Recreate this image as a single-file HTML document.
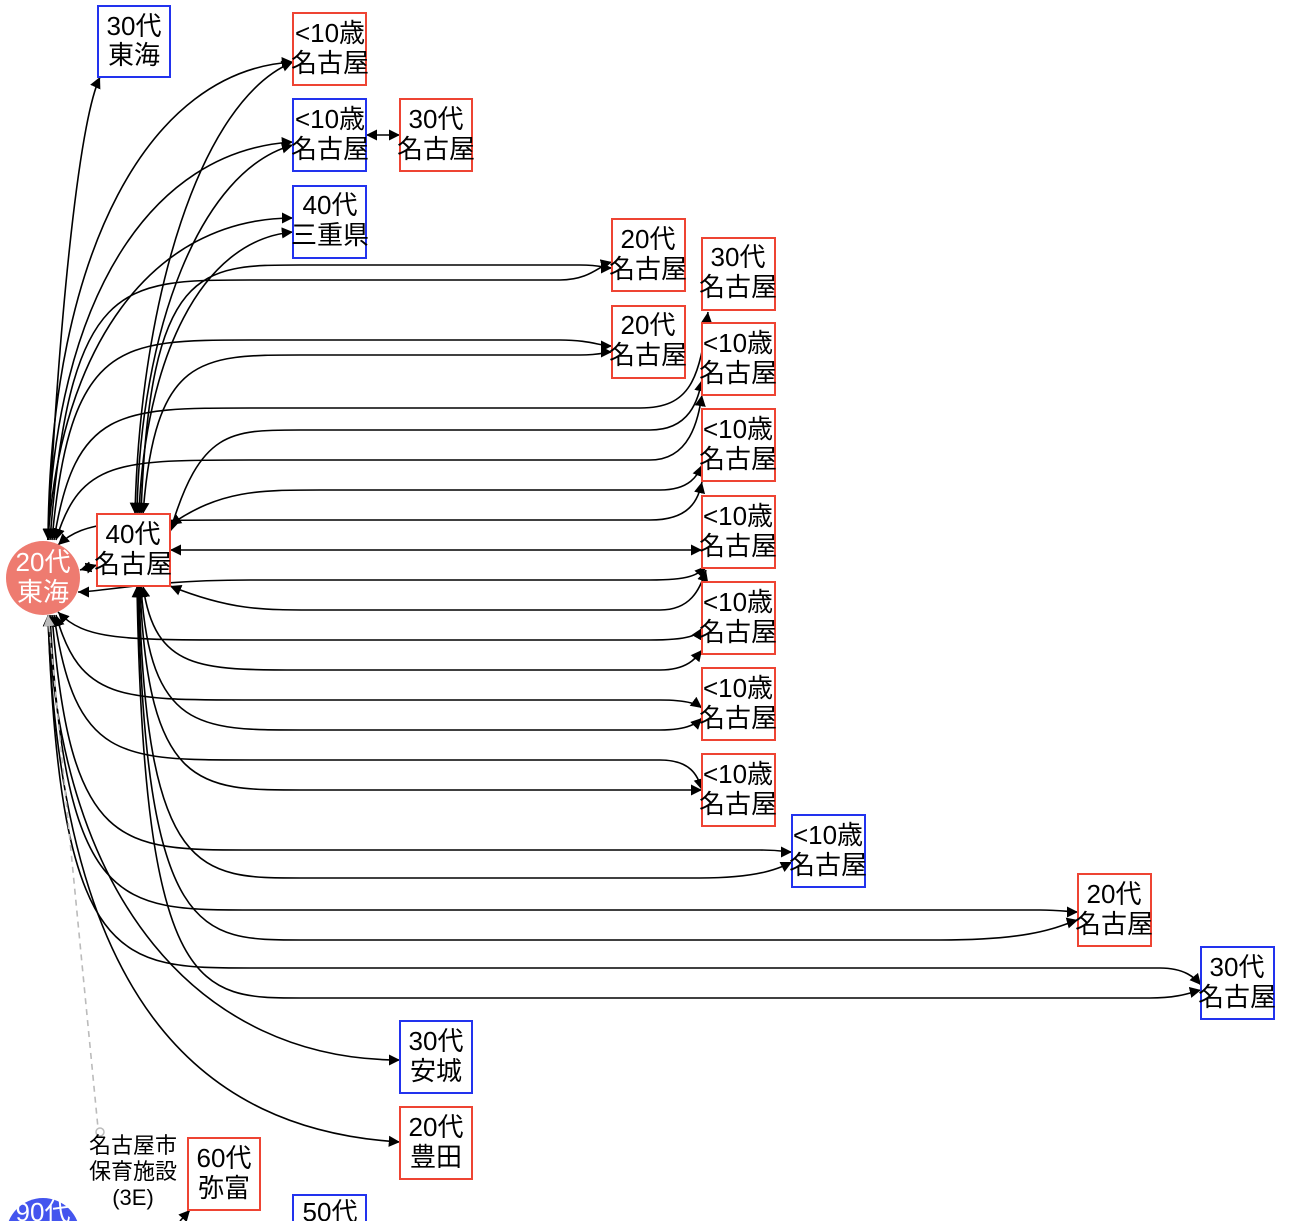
<!DOCTYPE html>
<html><head><meta charset="utf-8"><style>
html,body{margin:0;padding:0;background:#fff;width:1300px;height:1221px;overflow:hidden}
text{font-family:"Liberation Sans","Noto Sans CJK JP",sans-serif;font-size:26px;fill:#000;text-anchor:middle}
</style></head><body>
<svg width="1300" height="1221" viewBox="0 0 1300 1221" xmlns="http://www.w3.org/2000/svg">
<defs>
<marker id="a" viewBox="0 0 10 10" refX="10" refY="5" markerWidth="7" markerHeight="7" orient="auto-start-reverse"><path d="M0,0L10,5L0,10z" fill="#000"/></marker>
<marker id="g" viewBox="0 0 10 10" refX="10" refY="5" markerWidth="7" markerHeight="7" orient="auto-start-reverse"><path d="M0,0L10,5L0,10z" fill="#bbb"/></marker>
</defs>
<g fill="none" stroke="#000" stroke-width="1.6" marker-start="url(#a)" marker-end="url(#a)">
<!-- hub upward -->
<path d="M48,540 C 60,300 80,120 100,77"/>
<path d="M48,540 C 50,250 150,70 293,62"/>
<path d="M48,540 C 55,300 150,150 293,142"/>
<path d="M48,540 C 60,350 150,218 293,218"/>
<path d="M50,540 C 70,280 120,280 250,280 L 560,280 C 590,280 600,265 612,262"/>
<path d="M52,540 C 70,340 120,340 250,340 L 560,340 C 590,340 600,346 612,346"/>
<path d="M54,540 C 75,408 120,408 250,408 L 640,408 C 690,408 700,380 708,312"/>
<path d="M56,540 C 80,460 120,460 250,460 L 650,460 C 690,460 698,420 702,395"/>
<path d="M58,545 C 85,520 120,520 250,520 L 650,520 C 690,520 698,500 702,482"/>
<path d="M78,592 C 100,592 150,580 250,580 L 650,580 C 690,580 698,575 706,566"/>
<!-- hub downward -->
<path d="M58,612 C 85,640 120,640 250,640 L 650,640 C 690,640 698,635 702,628"/>
<path d="M56,615 C 80,700 120,700 250,700 L 660,700 C 690,700 698,705 702,708"/>
<path d="M54,615 C 75,760 120,760 250,760 L 660,760 C 690,760 698,775 702,790"/>
<path d="M52,615 C 70,850 120,850 250,850 L 760,850 C 780,850 788,852 792,852"/>
<path d="M50,615 C 65,910 120,910 250,910 L 1040,910 C 1060,910 1070,912 1078,912"/>
<path d="M48,615 C 60,968 120,968 250,968 L 1160,968 C 1185,968 1195,978 1201,985"/>
<path d="M48,615 C 60,900 200,1060 400,1060"/>
<path d="M48,615 C 60,1000 200,1130 400,1142"/>
<!-- 40代 upward -->
<path d="M135,514 C 140,300 200,100 293,62"/>
<path d="M137,514 C 140,330 200,170 293,145"/>
<path d="M139,514 C 145,360 200,240 293,232"/>
<path d="M141,514 C 150,265 200,265 300,265 L 580,265 C 600,265 606,268 612,268"/>
<path d="M143,514 C 155,355 200,355 300,355 L 580,355 C 600,355 606,352 612,352"/>
<path d="M170,532 C 200,430 230,430 300,430 L 650,430 C 690,430 698,400 702,380"/>
<path d="M170,525 C 220,490 260,490 320,490 L 660,490 C 690,490 698,475 702,465"/>
<path d="M170,550 L 702,550"/>
<!-- 40代 downward -->
<path d="M170,586 C 230,610 260,610 320,610 L 660,610 C 690,610 700,590 706,570"/>
<path d="M143,586 C 155,670 200,670 300,670 L 660,670 C 690,670 698,655 702,650"/>
<path d="M141,586 C 150,730 200,730 300,730 L 660,730 C 690,730 698,722 702,718"/>
<path d="M140,586 C 148,790 200,790 300,790 L 702,790"/>
<path d="M139,586 C 146,878 200,878 300,878 L 700,878 C 760,878 780,868 792,862"/>
<path d="M138,586 C 145,940 200,940 300,940 L 940,940 C 1040,940 1060,925 1078,920"/>
<path d="M137,586 C 144,998 200,998 300,998 L 1150,998 C 1180,998 1192,992 1201,990"/>
<!-- short -->
<path d="M80,570 L 97,565"/>
<path d="M366,135 L 400,135"/>
</g>
<path d="M48,615 L 98,1128" stroke="#bbb" stroke-width="1.6" stroke-dasharray="6,5" fill="none" marker-start="url(#g)"/>
<circle cx="100" cy="1132" r="4" fill="#fff" stroke="#bbb" stroke-width="1.5"/>
<path d="M180,1221 L 190,1210" stroke="#000" stroke-width="1.6" marker-end="url(#a)"/>
<!-- nodes -->
<g fill="#fff" stroke-width="2">
<rect x="98" y="6" width="72" height="71" stroke="#2233ee"/>
<rect x="293" y="13" width="73" height="72" stroke="#ee4433"/>
<rect x="293" y="99" width="73" height="72" stroke="#2233ee"/>
<rect x="400" y="99" width="72" height="72" stroke="#ee4433"/>
<rect x="293" y="186" width="73" height="72" stroke="#2233ee"/>
<rect x="612" y="219" width="73" height="72" stroke="#ee4433"/>
<rect x="702" y="238" width="73" height="72" stroke="#ee4433"/>
<rect x="612" y="306" width="73" height="72" stroke="#ee4433"/>
<rect x="702" y="323" width="73" height="72" stroke="#ee4433"/>
<rect x="702" y="409" width="73" height="72" stroke="#ee4433"/>
<rect x="702" y="496" width="73" height="72" stroke="#ee4433"/>
<rect x="702" y="582" width="73" height="72" stroke="#ee4433"/>
<rect x="702" y="668" width="73" height="72" stroke="#ee4433"/>
<rect x="702" y="754" width="73" height="72" stroke="#ee4433"/>
<rect x="792" y="815" width="73" height="72" stroke="#2233ee"/>
<rect x="1078" y="874" width="73" height="72" stroke="#ee4433"/>
<rect x="1201" y="947" width="73" height="72" stroke="#2233ee"/>
<rect x="400" y="1021" width="72" height="72" stroke="#2233ee"/>
<rect x="400" y="1107" width="72" height="72" stroke="#ee4433"/>
<rect x="188" y="1138" width="72" height="72" stroke="#ee4433"/>
<rect x="293" y="1195" width="73" height="40" stroke="#2233ee"/>
<rect x="97" y="514" width="73" height="72" stroke="#ee4433"/>
</g>
<circle cx="43" cy="578" r="37" fill="#ee7b70"/>
<circle cx="43" cy="1235" r="37" fill="#4455ee"/>
<g>
<text x="134" y="35">30代</text><text x="134" y="64">東海</text>
<text x="330" y="42">&lt;10歳</text><text x="330" y="72">名古屋</text>
<text x="330" y="128">&lt;10歳</text><text x="330" y="158">名古屋</text>
<text x="436" y="128">30代</text><text x="436" y="158">名古屋</text>
<text x="330" y="214">40代</text><text x="330" y="244">三重県</text>
<text x="648" y="248">20代</text><text x="648" y="278">名古屋</text>
<text x="738" y="266">30代</text><text x="738" y="296">名古屋</text>
<text x="648" y="334">20代</text><text x="648" y="364">名古屋</text>
<text x="738" y="352">&lt;10歳</text><text x="738" y="382">名古屋</text>
<text x="738" y="438">&lt;10歳</text><text x="738" y="468">名古屋</text>
<text x="738" y="525">&lt;10歳</text><text x="738" y="555">名古屋</text>
<text x="738" y="611">&lt;10歳</text><text x="738" y="641">名古屋</text>
<text x="738" y="697">&lt;10歳</text><text x="738" y="727">名古屋</text>
<text x="738" y="783">&lt;10歳</text><text x="738" y="813">名古屋</text>
<text x="828" y="844">&lt;10歳</text><text x="828" y="874">名古屋</text>
<text x="1114" y="903">20代</text><text x="1114" y="933">名古屋</text>
<text x="1237" y="976">30代</text><text x="1237" y="1006">名古屋</text>
<text x="436" y="1050">30代</text><text x="436" y="1080">安城</text>
<text x="436" y="1136">20代</text><text x="436" y="1166">豊田</text>
<text x="224" y="1167">60代</text><text x="224" y="1197">弥富</text>
<text x="330" y="1221">50代</text>
<text x="133" y="543">40代</text><text x="133" y="573">名古屋</text>
<text x="43" y="571" style="fill:#fff">20代</text><text x="43" y="601" style="fill:#fff">東海</text>
<text x="43" y="1221" style="fill:#fff">90代</text>
<text x="133" y="1153" style="font-size:22px">名古屋市</text>
<text x="133" y="1179" style="font-size:22px">保育施設</text>
<text x="133" y="1205" style="font-size:22px">(3E)</text>
</g>
</svg>
</body></html>
